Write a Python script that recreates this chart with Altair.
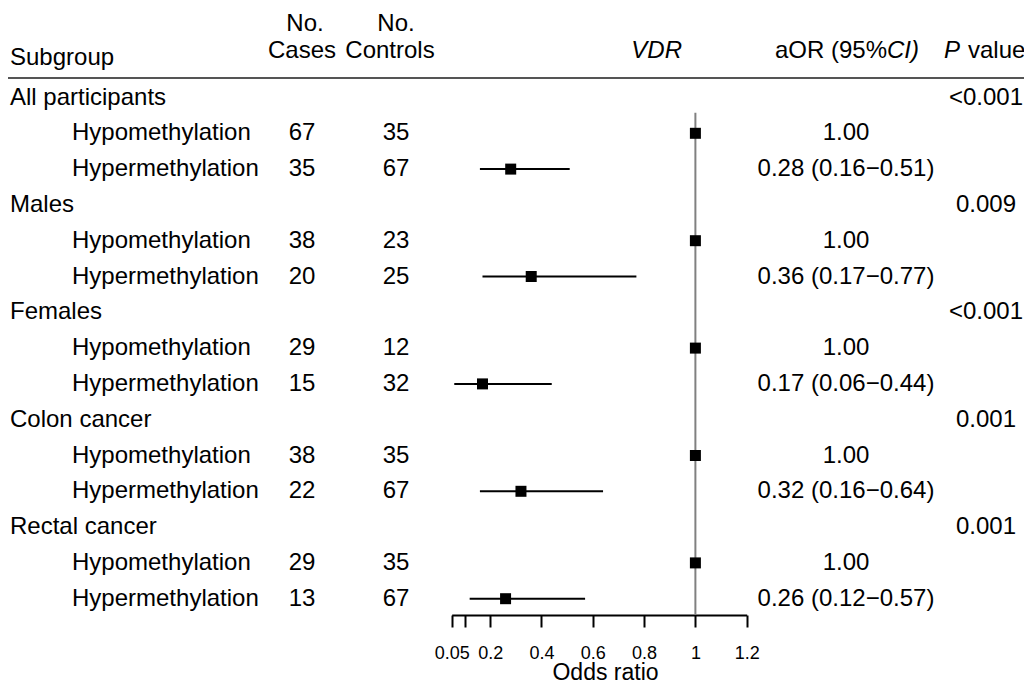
import altair as alt
import pandas as pd

groups = ["All participants", "Males", "Females", "Colon cancer", "Rectal cancer"]
p_values = ["<0.001", "0.009", "<0.001", "0.001", "0.001"]
levels = ["Hypomethylation", "Hypermethylation"]
cases_hypo = [67, 38, 29, 38, 29]
controls_hypo = [35, 23, 12, 35, 35]
cases_hyper = [35, 20, 15, 22, 13]
controls_hyper = [67, 25, 32, 67, 67]
or_hyper = [0.28, 0.36, 0.17, 0.32, 0.26]
lo_hyper = [0.16, 0.17, 0.06, 0.16, 0.12]
hi_hyper = [0.51, 0.77, 0.44, 0.64, 0.57]
x_ticks = [0.05, 0.1, 0.2, 0.4, 0.6, 0.8, 1, 1.2]

MINUS = "\u2212"

group_rows = []
level_rows = []
for g, name in enumerate(groups):
    r = 3 * g
    group_rows.append({"row": r, "label": name, "p": p_values[g]})
    level_rows.append({"row": r + 1, "label": levels[0], "cases": str(cases_hypo[g]),
                       "controls": str(controls_hypo[g]), "or": 1.0, "lo": None, "hi": None,
                       "aor": "1.00"})
    level_rows.append({"row": r + 2, "label": levels[1], "cases": str(cases_hyper[g]),
                       "controls": str(controls_hyper[g]), "or": or_hyper[g],
                       "lo": lo_hyper[g], "hi": hi_hyper[g],
                       "aor": f"{or_hyper[g]:.2f} ({lo_hyper[g]:.2f}{MINUS}{hi_hyper[g]:.2f})"})

gdf = pd.DataFrame(group_rows)
ldf = pd.DataFrame(level_rows)
cidf = ldf.dropna(subset=["lo"])

FONT = "Liberation Sans"
FS = 24
W, H = 1016, 607

xscale = alt.Scale(domain=[0.05, 1.2], range=[443.7, 738.7], nice=False, zero=False)
yscale = alt.Scale(domain=[-2.5, 14], range=[0, 590.7], nice=False, zero=False)

Y = lambda f: alt.Y(f, type="quantitative", scale=yscale, axis=None)


def txt(df, field, xpx, align="center", italic=False):
    return alt.Chart(df).mark_text(
        align=align, baseline="middle", font=FONT, fontSize=FS, color="black",
        fontStyle="italic" if italic else "normal"
    ).encode(x=alt.value(xpx), y=Y("row"), text=alt.Text(f"{field}:N"))


def header(text, row, xpx, align="center", italic=False):
    return alt.Chart(pd.DataFrame({"row": [row], "t": [text]})).mark_text(
        align=align, baseline="middle", font=FONT, fontSize=FS, color="black",
        fontStyle="italic" if italic else "normal"
    ).encode(x=alt.value(xpx), y=Y("row"), text="t:N")


head_rule = alt.Chart(pd.DataFrame({"a": [0]})).mark_rule(color="#555555", strokeWidth=2).encode(
    x=alt.value(0), x2=alt.value(W), y=alt.value(70)
)

ref_rule = alt.Chart(pd.DataFrame({"a": [0]})).mark_rule(color="#808080", strokeWidth=2).encode(
    x=alt.datum(1, scale=xscale), y=alt.value(104.7), y2=alt.value(H)
)

ci = alt.Chart(cidf).mark_rule(color="black", strokeWidth=2).encode(
    x=alt.X("lo:Q", scale=xscale,
            axis=alt.Axis(values=x_ticks, title="Odds ratio", grid=False,
                          labelFlush=False, labelOverlap=False,
                          labelExpr="datum.value == 0.1 ? '' : toString(datum.value)")),
    x2="hi:Q",
    y=Y("row"),
)

squares = alt.Chart(ldf).mark_square(size=121, color="black", opacity=1, filled=True).encode(
    x=alt.X("or:Q", scale=xscale), y=Y("row")
)

layers = [
    head_rule, ref_rule, ci, squares,
    txt(gdf, "label", 2, align="left"),
    txt(gdf, "p", 978),
    txt(ldf, "label", 64, align="left"),
    txt(ldf, "cases", 294),
    txt(ldf, "controls", 388),
    txt(ldf, "aor", 838),
    header("Subgroup", -1.10, 2, align="left"),
    header("No.", -2.05, 297),
    header("Cases", -1.30, 294),
    header("No.", -2.05, 388),
    header("Controls", -1.30, 382),
    header("VDR", -1.30, 674, align="right", italic=True),
    header("aOR (95%", -1.30, 879, align="right"),
    header("CI)", -1.30, 879, align="left", italic=True),
    header("P", -1.30, 952, align="right", italic=True),
    header("value", -1.30, 960, align="left"),
]

chart = alt.layer(*layers).properties(
    width=W, height=H,
    padding={"left": 0, "top": 0, "right": 0, "bottom": 66},
    autosize=alt.AutoSizeParams(type="none"),
).configure_view(
    stroke=None
).configure_axis(
    domainColor="black", domainWidth=2, tickColor="black", tickWidth=2, tickSize=12,
    labelFont=FONT, labelFontSize=18, labelColor="black", labelPadding=17,
    titleFont=FONT, titleFontSize=23, titleColor="black", titleFontWeight="normal",
    titleBaseline="alphabetic", titleY=64, titleX=597
)

chart.save("out.html", embed_options={"renderer": "svg", "actions": False})
